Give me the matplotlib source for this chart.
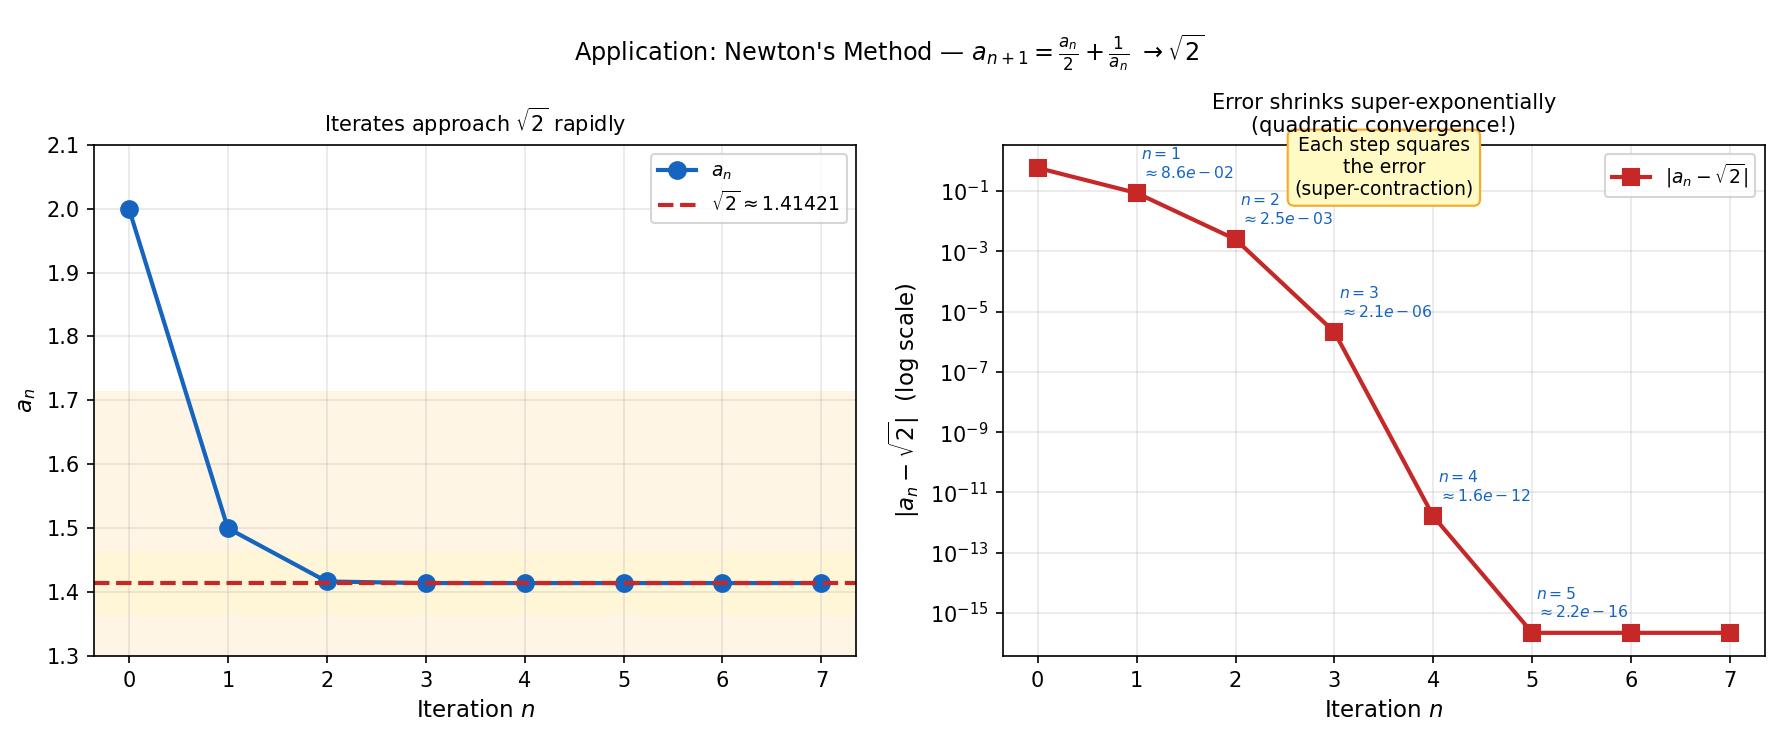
import matplotlib
matplotlib.use("Agg")
import matplotlib.pyplot as plt
import numpy as np

# values
iters = [0, 1, 2, 3, 4, 5, 6, 7]
a_vals = [2.0, 1.5, 1.416667, 1.414216, 1.4142136, 1.4142136, 1.4142136, 1.4142136]
errors = [5.86e-1, 8.6e-2, 2.5e-3, 2.1e-6, 1.6e-12, 2.2e-16, 2.2e-16, 2.2e-16]
labelled = [1, 2, 3, 4, 5]
sqrt2 = 1.41421356

blue = '#1565C0'
red = '#C62828'

fig, (ax1, ax2) = plt.subplots(1, 2, figsize=(1779/150, 738/150), dpi=150)
fig.subplots_adjust(left=0.053, right=0.992, top=0.804, bottom=0.111, wspace=0.193)

# left: iterates
ax1.axhspan(sqrt2 - 0.3, sqrt2 + 0.3, color='orange', alpha=0.1, lw=0)
ax1.axhspan(sqrt2 - 0.05, sqrt2 + 0.05, color='yellow', alpha=0.06, lw=0)
ax1.plot(iters, a_vals, 'o-', color=blue, lw=2, ms=8, label='$a_n$')
ax1.axhline(sqrt2, color=red, ls='--', lw=2, label=r'$\sqrt{2} \approx 1.41421$')
ax1.set_ylim(1.3, 2.1)
ax1.set_xticks(iters)
ax1.grid(True, alpha=0.3)
ax1.set_xlabel('Iteration $n$', fontsize=11)
ax1.set_ylabel('$a_n$', fontsize=11)
ax1.set_title(r'Iterates approach $\sqrt{2}$ rapidly', fontsize=10)
ax1.legend(loc='upper right', fontsize=9)

# right: errors
ax2.semilogy(iters, errors, 's-', color=red, lw=2, ms=8, label=r'$|a_n - \sqrt{2}|$')
for n in labelled:
    ax2.annotate('$n = %d$\n$\\approx %s$' % (n, '%.1e' % errors[n]),
                 xy=(iters[n], errors[n]), xytext=(2, 6), textcoords='offset points',
                 fontsize=7.5, color=blue, va='bottom', ha='left')
ax2.text(0.5, 0.955, 'Each step squares\nthe error\n(super-contraction)',
         transform=ax2.transAxes, ha='center', va='center', fontsize=9,
         bbox=dict(boxstyle='round,pad=0.35', facecolor='#FFF9C4', edgecolor='#F9A825'))
ax2.set_xticks(iters)
ax2.grid(True, alpha=0.3)
ax2.set_xlabel('Iteration $n$', fontsize=11)
ax2.set_ylabel(r'$|a_n - \sqrt{2}|$  (log scale)', fontsize=11)
ax2.set_title('Error shrinks super-exponentially\n(quadratic convergence!)', fontsize=10)
ax2.legend(loc='upper right', fontsize=9)

fig.suptitle(r"Application: Newton's Method — $a_{n+1} = \frac{a_n}{2} + \frac{1}{a_n}$ $\to \sqrt{2}$",
             fontsize=11.5, y=0.955)

fig.savefig('out.png', dpi=150)
